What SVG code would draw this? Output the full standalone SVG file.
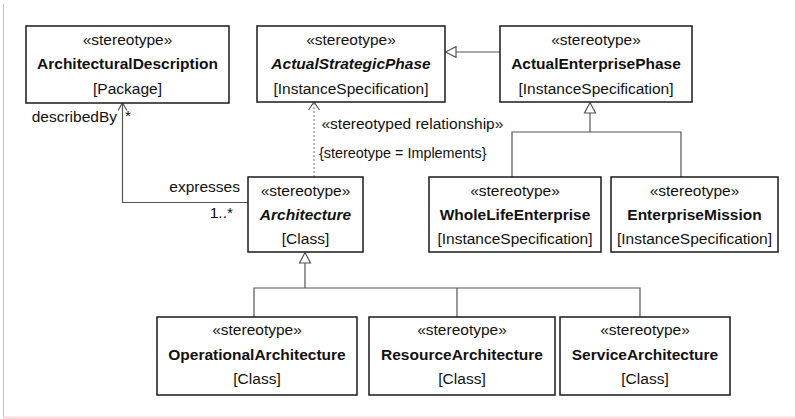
<svg xmlns="http://www.w3.org/2000/svg" width="795" height="419" viewBox="0 0 795 419">
<style>
  .box{fill:#fff;stroke:#1a1a1a;stroke-width:1.5}
  text{font-family:"Liberation Sans",Arial,sans-serif;font-size:15.5px;fill:#111}
  .c{text-anchor:middle}
  .b{font-weight:bold}
  .bi{font-weight:bold;font-style:italic}
  .e{text-anchor:end}
  .sm{font-size:14.4px}
  .ln{fill:none;stroke:#555;stroke-width:1.2}
  .dash{fill:none;stroke:#8a8a8a;stroke-width:1.2;stroke-dasharray:2 2}
  .tri{fill:#fff;stroke:#555;stroke-width:1.2}
</style>
<rect x="0" y="0" width="795" height="419" fill="#fff"/>
<line x1="3.5" y1="4" x2="3.5" y2="417" stroke="#f2aab4" stroke-width="1"/>
<rect x="3" y="416.5" width="792" height="2.5" fill="#fadadd"/>

<g id="connectors">
  <!-- association -->
  <polyline class="ln" points="248,202.5 122.5,202.5 122.5,103"/>
  <polyline class="ln" points="118,110.5 122.5,103 127,110.5"/>
  <text x="117" y="122" class="e">describedBy</text>
  <text x="125" y="121">*</text>
  <text x="240" y="192" class="e">expresses</text>
  <text x="233" y="218" class="e">1..*</text>
  <!-- dependency -->
  <line class="dash" x1="314" y1="177" x2="314" y2="103"/>
  <polyline class="ln" points="308.5,110 314,102 319.5,110"/>
  <text x="321.5" y="129">«stereotyped relationship»</text>
  <text x="319" y="158" class="sm">{stereotype = Implements}</text>
  <!-- generalization enterprise -> strategic -->
  <line class="ln" x1="500" y1="52" x2="456" y2="52"/>
  <polygon class="tri" points="445.5,52 456,46.7 456,57.3"/>
  <!-- enterprise tree -->
  <polygon class="tri" points="590,102.5 584.5,113 595.5,113"/>
  <polyline class="ln" points="590,113 590,132"/>
  <polyline class="ln" points="512,177 512,132 681,132 681,177"/>
  <!-- architecture tree -->
  <polygon class="tri" points="305,252.5 299.5,263 310.5,263"/>
  <polyline class="ln" points="305,263 305,288"/>
  <polyline class="ln" points="254,317 254,288 640,288 640,317"/>
  <line class="ln" x1="457" y1="288" x2="457" y2="317"/>
</g>

<g id="ArchitecturalDescription">
  <rect class="box" x="26" y="26" width="203" height="77"/>
  <text x="127.5" y="44.5" class="c">«stereotype»</text>
  <text x="127.5" y="69" class="c b">ArchitecturalDescription</text>
  <text x="127.5" y="93.5" class="c">[Package]</text>
</g>
<g id="ActualStrategicPhase">
  <rect class="box" x="257" y="26" width="188" height="76"/>
  <text x="351" y="44.5" class="c">«stereotype»</text>
  <text x="351" y="69" class="c bi">ActualStrategicPhase</text>
  <text x="351" y="93.5" class="c">[InstanceSpecification]</text>
</g>
<g id="ActualEnterprisePhase">
  <rect class="box" x="500" y="26" width="192" height="76"/>
  <text x="596" y="44.5" class="c">«stereotype»</text>
  <text x="596" y="69" class="c b">ActualEnterprisePhase</text>
  <text x="596" y="93.5" class="c">[InstanceSpecification]</text>
</g>
<g id="Architecture">
  <rect class="box" x="248" y="177" width="115" height="75"/>
  <text x="305.5" y="195.5" class="c">«stereotype»</text>
  <text x="305.5" y="220" class="c bi">Architecture</text>
  <text x="305.5" y="244" class="c">[Class]</text>
</g>
<g id="WholeLifeEnterprise">
  <rect class="box" x="429" y="177" width="172" height="75"/>
  <text x="515" y="195.5" class="c">«stereotype»</text>
  <text x="515" y="220" class="c b">WholeLifeEnterprise</text>
  <text x="515" y="244" class="c">[InstanceSpecification]</text>
</g>
<g id="EnterpriseMission">
  <rect class="box" x="611" y="177" width="167" height="75"/>
  <text x="694.5" y="195.5" class="c">«stereotype»</text>
  <text x="694.5" y="220" class="c b">EnterpriseMission</text>
  <text x="694.5" y="244" class="c">[InstanceSpecification]</text>
</g>
<g id="OperationalArchitecture">
  <rect class="box" x="157" y="317" width="200" height="78"/>
  <text x="257" y="335" class="c">«stereotype»</text>
  <text x="257" y="360" class="c b">OperationalArchitecture</text>
  <text x="257" y="384" class="c">[Class]</text>
</g>
<g id="ResourceArchitecture">
  <rect class="box" x="369" y="317" width="186" height="78"/>
  <text x="462" y="335" class="c">«stereotype»</text>
  <text x="462" y="360" class="c b">ResourceArchitecture</text>
  <text x="462" y="384" class="c">[Class]</text>
</g>
<g id="ServiceArchitecture">
  <rect class="box" x="560" y="317" width="170" height="78"/>
  <text x="645" y="335" class="c">«stereotype»</text>
  <text x="645" y="360" class="c b">ServiceArchitecture</text>
  <text x="645" y="384" class="c">[Class]</text>
</g>
</svg>
